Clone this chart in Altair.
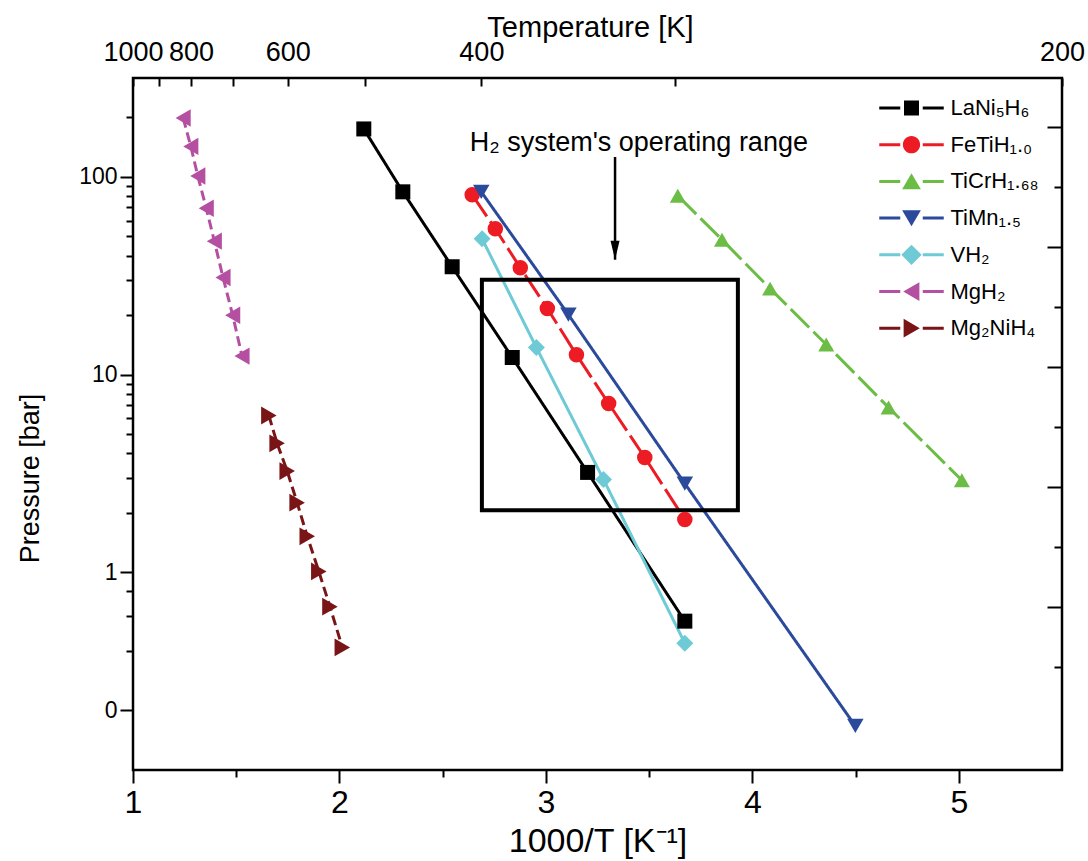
import altair as alt
import pandas as pd

# ---------------- data ----------------
series = ["LaNi5H6", "FeTiH1.0", "TiCrH1.68", "TiMn1.5", "VH2", "MgH2", "Mg2NiH4"]
labels = ["LaNi₅H₆", "FeTiH₁.₀", "TiCrH₁.₆₈", "TiMn₁.₅", "VH₂", "MgH₂", "Mg₂NiH₄"]
colors = ["#000000", "#ED1C24", "#6CBD45", "#2B4A9C", "#6ECAD5", "#B44FA2", "#7A1517"]

lani_x = [2.118, 2.307, 2.546, 2.837, 3.202, 3.673]
lani_p = [174.7, 84.0, 35.1, 12.2, 3.2, 0.566]
feti_x = [2.643, 2.755, 2.876, 3.007, 3.148, 3.304, 3.479, 3.673]
feti_p = [81.1, 54.6, 34.7, 21.6, 12.6, 7.14, 3.81, 1.85]
ticr_x = [3.639, 3.853, 4.086, 4.358, 4.660, 5.015]
ticr_p = [80.2, 48.1, 27.2, 14.2, 6.81, 2.92]
timn_x = [2.687, 3.109, 3.673, 4.499]
timn_p = [84.0, 20.1, 2.81, 0.167]
vh2_x = [2.691, 2.954, 3.279, 3.673]
vh2_p = [48.6, 13.7, 2.95, 0.438]
mgh2_x = [1.243, 1.280, 1.314, 1.355, 1.394, 1.436, 1.483, 1.528]
mgh2_p = [198.6, 142.6, 100.9, 69.3, 47.3, 31.0, 19.95, 12.4]
mg2ni_x = [1.658, 1.698, 1.747, 1.795, 1.844, 1.900, 1.954, 2.014]
mg2ni_p = [6.21, 4.49, 3.25, 2.25, 1.52, 1.01, 0.67, 0.417]

box_x = [2.69, 3.93]
box_p = [2.06, 30.2]
arrow_x = [3.335]
arrow_p = [126.0, 38.1]
note_x = [3.45]
note_p = [148.0]
note_text = ["H₂ system's operating range"]

temps = [1000, 900, 800, 700, 600, 500, 400, 300, 200]
temp_labels = [1000, 800, 600, 400, 200]
x_major = [1, 2, 3, 4, 5]
x_minor = [1.5, 2.5, 3.5, 4.5]
y_major = [0.2, 1, 10, 100]
y_minor = [0.4, 0.6, 0.8, 2, 3, 4, 5, 6, 7, 8, 9, 20, 30, 40, 50, 60, 70, 80, 90, 200]
right_long = [2.72, 4.72, 6.72, 8.72, 10.72]
right_short = [1.72, 3.72, 5.72, 7.72, 9.72]

# ---------------- styles ----------------
SANS = "Liberation Sans, Arial, sans-serif"
shapes = ["square", "circle", "triangle-up", "triangle-down", "diamond", "triangle-left", "triangle-right"]
sizes = [225, 320, 380, 380, 420, 380, 380]
dashes = [[1, 0], [26, 6], [26, 6], [1, 0], [1, 0], [10, 5], [10, 5]]
seg = "M-4.3,-0.2H-1.5V0.2H-4.3ZM1.5,-0.2H4.3V0.2H1.5Z"
legend_paths = [
    seg + "M-1,-1H1V1H-1Z",
    seg + "M1.15,0A1.15,1.15,0,1,1,-1.15,0A1.15,1.15,0,1,1,1.15,0Z",
    seg + "M0,-1.1L1.25,1.05L-1.25,1.05Z",
    seg + "M0,1.1L1.25,-1.05L-1.25,-1.05Z",
    seg + "M0,-1.35L1.35,0L0,1.35L-1.35,0Z",
    seg + "M-1.1,0L1.05,-1.25L1.05,1.25Z",
    seg + "M1.1,0L-1.05,-1.25L-1.05,1.25Z",
]

rows = []
for s, lab, xs, ps in zip(series, labels,
                          [lani_x, feti_x, ticr_x, timn_x, vh2_x, mgh2_x, mg2ni_x],
                          [lani_p, feti_p, ticr_p, timn_p, vh2_p, mgh2_p, mg2ni_p]):
    for i, (xv, pv) in enumerate(zip(xs, ps)):
        rows.append({"series": s, "label": lab, "inv": xv, "p": pv, "idx": i})
df = pd.DataFrame(rows)

XS = alt.Scale(domain=[1, 5.5], nice=False, zero=False)
YS = alt.Scale(type="log", domain=[0.1, 316.2], nice=False)
XT = alt.Scale(domain=[1, 5], nice=False, zero=False)
RS = alt.Scale(domain=[0, 692 / 60], nice=False, zero=False)

color_scale = alt.Scale(domain=series, range=colors)

xmaj = ",".join(str(v) for v in x_major)
ymaj = ",".join(str(v) for v in y_major)
rlong = ",".join(str(v) for v in right_long)

main_x_axis = alt.Axis(
    orient="bottom", values=sorted(x_major + x_minor),
    labelExpr=f"indexof([{xmaj}], datum.value) >= 0 ? format(datum.value, 'd') : ''",
    tickSize={"condition": {"test": f"indexof([{xmaj}], datum.value) >= 0", "value": 13}, "value": 7},
    labelFontSize=32, labelFont=SANS, labelPadding=4,
    title="1000/T [K⁻¹]", titleFont=SANS, titleFontSize=34,
    titleX=464.5, titleY=71, titleBaseline="middle", titleAlign="center")
main_y_axis = alt.Axis(
    orient="left", values=sorted(y_major + y_minor),
    labelExpr=f"indexof([{ymaj}], datum.value) >= 0 ? format(datum.value, 'd') : ''",
    tickSize={"condition": {"test": f"indexof([{ymaj}], datum.value) >= 0", "value": 13}, "value": 7},
    labelFontSize=23, labelFont=SANS, labelPadding=3,
    title="Pressure [bar]", titleFont=SANS, titleFontSize=27,
    titleX=-103, titleY=400, titleAngle=-90,
    titleBaseline="middle", titleAlign="center")

lines = alt.Chart(df).mark_line(strokeWidth=3).encode(
    x=alt.X("inv:Q", scale=XS, axis=main_x_axis),
    y=alt.Y("p:Q", scale=YS, axis=main_y_axis),
    color=alt.Color("series:N", scale=color_scale, legend=None),
    strokeDash=alt.StrokeDash("series:N", scale=alt.Scale(domain=series, range=dashes), legend=None),
    order="idx:Q",
)

points = alt.Chart(df).mark_point(filled=True, opacity=1).encode(
    x=alt.X("inv:Q", scale=XS, axis=None),
    y=alt.Y("p:Q", scale=YS, axis=None),
    color=alt.Color("series:N", scale=color_scale, legend=None),
    shape=alt.Shape("series:N", scale=alt.Scale(domain=series, range=shapes), legend=None),
    size=alt.Size("series:N", scale=alt.Scale(domain=series, range=sizes), legend=None),
)

box_df = pd.DataFrame({"x1": [box_x[0]], "x2": [box_x[1]], "p1": [box_p[0]], "p2": [box_p[1]]})
rect = alt.Chart(box_df).mark_rect(fill="transparent", stroke="black", strokeWidth=4).encode(
    x=alt.X("x1:Q", scale=XS, axis=None), x2="x2:Q",
    y=alt.Y("p1:Q", scale=YS, axis=None), y2="p2:Q",
)

arrow_df = pd.DataFrame({"inv": arrow_x, "p1": [arrow_p[0]], "p2": [arrow_p[1]]})
shaft = alt.Chart(arrow_df).mark_rule(strokeWidth=2.5, color="black").encode(
    x=alt.X("inv:Q", scale=XS, axis=None),
    y=alt.Y("p1:Q", scale=YS, axis=None), y2="p2:Q",
)
head = alt.Chart(arrow_df).mark_point(shape="M-0.9,-3.8L0.9,-3.8L0,0Z", filled=True,
                                      color="black", size=100, opacity=1).encode(
    x=alt.X("inv:Q", scale=XS, axis=None),
    y=alt.Y("p2:Q", scale=YS, axis=None),
)

note_df = pd.DataFrame({"inv": note_x, "p": note_p, "t": note_text})
note = alt.Chart(note_df).mark_text(fontSize=27, font=SANS, align="center",
                                    baseline="middle", color="black").encode(
    x=alt.X("inv:Q", scale=XS, axis=None),
    y=alt.Y("p:Q", scale=YS, axis=None),
    text="t:N",
)

# top (temperature) axis and right axis
top_df = pd.DataFrame({"tinv": [1000 / t for t in temps], "r": [0] * len(temps)})
label_list = ",".join(str(t) for t in temp_labels)
top_axis = alt.Axis(
    orient="top", values=[1000 / t for t in temps], tickSize=8, offset=-8,
    labelExpr=f"indexof([{label_list}], round(1000/datum.value)) >= 0 ? '' + round(1000/datum.value) : ''",
    labelFontSize=27, labelFont=SANS, labelPadding=12,
    title="Temperature [K]", titleFont=SANS, titleFontSize=29,
    titleX=457, titleY=-59, titleBaseline="middle", titleAlign="center")
right_axis = alt.Axis(
    orient="right", values=sorted(right_long + right_short), tickSize=15, offset=-15,
    tickDash={"condition": {"test": f"indexof([{rlong}], datum.value) >= 0", "value": [15, 0]},
              "value": [0, 7, 8, 20]},
    labels=False, title=None)
top_layer = alt.Chart(top_df).mark_point(opacity=0).encode(
    x=alt.X("tinv:Q", scale=XT, axis=top_axis),
    y=alt.Y("r:Q", scale=RS, axis=right_axis),
)

# legend: one single-entry legend per series
legend_layers = []
for i, (lab, col, path) in enumerate(zip(labels, colors, legend_paths)):
    sub = df[df["label"] == lab]
    leg = alt.Legend(title=None, orient="none", legendX=767.5, legendY=19 + 36.7 * i,
                     padding=0, symbolStrokeWidth=0, symbolSize=225, symbolOpacity=1,
                     labelFontSize=22, labelFont=SANS, labelColor="black",
                     labelOffset=28, labelLimit=300)
    legend_layers.append(
        alt.Chart(sub).mark_point(filled=True, color=col, opacity=0, size=225).encode(
            x=alt.X("inv:Q", scale=XS, axis=None),
            y=alt.Y("p:Q", scale=YS, axis=None),
            shape=alt.Shape("label:N", scale=alt.Scale(domain=[lab], range=[path]), legend=leg),
        )
    )

chart = alt.layer(lines, rect, points, shaft, head, note, top_layer, *legend_layers).resolve_scale(
    x="independent", y="independent", shape="independent"
).properties(
    width=929, height=692,
    padding={"left": 133, "top": 78, "right": 26, "bottom": 91},
    autosize=alt.AutoSizeParams(type="none"),
    background="white",
).configure_view(stroke="black", strokeWidth=2.5).configure_axis(
    domain=False, grid=False, tickColor="black", tickWidth=2, labelColor="black",
    titleColor="black", labelFlush=False, labelOverlap=False, titleFontWeight="normal",
)

chart.save("out.html", embed_options={"renderer": "svg", "actions": False})
